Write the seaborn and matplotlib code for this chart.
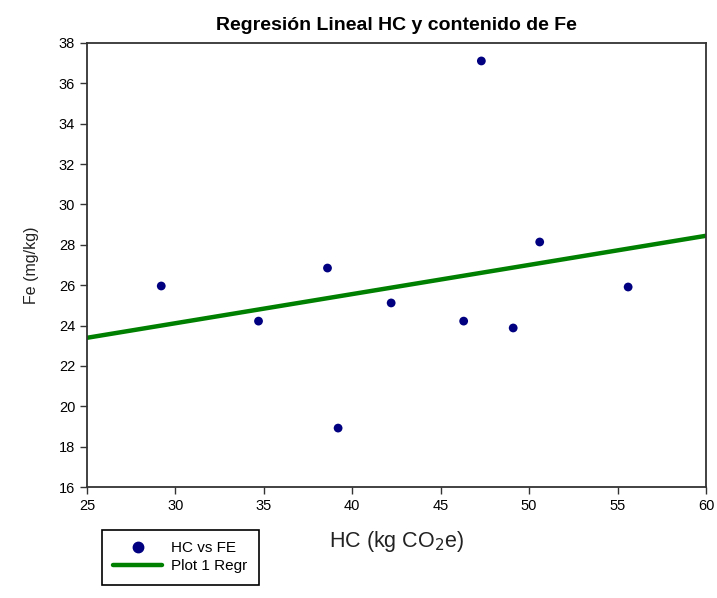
import matplotlib

matplotlib.use("Agg")
import matplotlib.pyplot as plt
import pandas as pd
import seaborn as sns

# HC (kg CO2 e) vs Fe (mg/kg)
hc = [29.2, 34.7, 38.6, 39.2, 42.2, 46.3, 47.3, 50.6, 49.1, 55.6]
fe = [25.96, 24.22, 26.85, 18.92, 25.12, 24.22, 37.11, 28.14, 23.88, 25.91]

x_ticks = [25, 30, 35, 40, 45, 50, 55, 60]
y_ticks = [16, 18, 20, 22, 24, 26, 28, 30, 32, 34, 36, 38]

df = pd.DataFrame({"HC": hc, "Fe": fe})

sns.set_style("ticks")
plt.rcParams["font.family"] = ["Liberation Sans", "DejaVu Sans"]
plt.rcParams["text.color"] = "black"
plt.rcParams["axes.labelcolor"] = "black"

fig = plt.figure(figsize=(7.17, 5.98), dpi=100)
ax = fig.add_axes([0.1213, 0.1856, 0.8633, 0.7425])
ax.set_xlim(25, 60)
ax.set_ylim(16, 38)

sns.regplot(
    data=df, x="HC", y="Fe", ax=ax, ci=None, truncate=False,
    scatter_kws={"color": "#000080", "s": 40, "alpha": 1, "edgecolor": "none",
                 "zorder": 3},
    line_kws={"color": "#008000", "lw": 3.2, "zorder": 2},
)
ax.set_xlim(25, 60)
ax.set_ylim(16, 38)
ax.set_xticks(x_ticks)
ax.set_yticks(y_ticks)
ax.tick_params(labelsize=10.5, direction="out", length=5, width=1, colors="#333333",
               labelcolor="black")
for s in ax.spines.values():
    s.set_color("#333333")
    s.set_linewidth(1.3)

ax.set_title("Regresión Lineal HC y contenido de Fe", fontsize=14,
             fontweight="bold", pad=9)
ax.set_xlabel("HC (kg CO$_2$e)", fontsize=15.5, labelpad=12, color="#222222")
ax.set_ylabel("Fe (mg/kg)", fontsize=11.5, labelpad=14, color="#222222")

handles = [
    plt.Line2D([], [], marker="o", ls="none", color="#000080", markersize=7.5),
    plt.Line2D([], [], color="#008000", lw=3.2),
]
leg = fig.legend(handles, ["HC vs FE", "Plot 1 Regr"], loc="upper left",
                 bbox_to_anchor=(0.142, 0.114), borderaxespad=0, fontsize=11,
                 frameon=True, fancybox=False, edgecolor="black",
                 handlelength=3.2, handletextpad=0.6, borderpad=0.75,
                 labelspacing=0.25)
leg.get_frame().set_linewidth(1.2)
leg.get_frame().set_alpha(1)

fig.savefig("out.png", dpi=100)
plt.close(fig)
